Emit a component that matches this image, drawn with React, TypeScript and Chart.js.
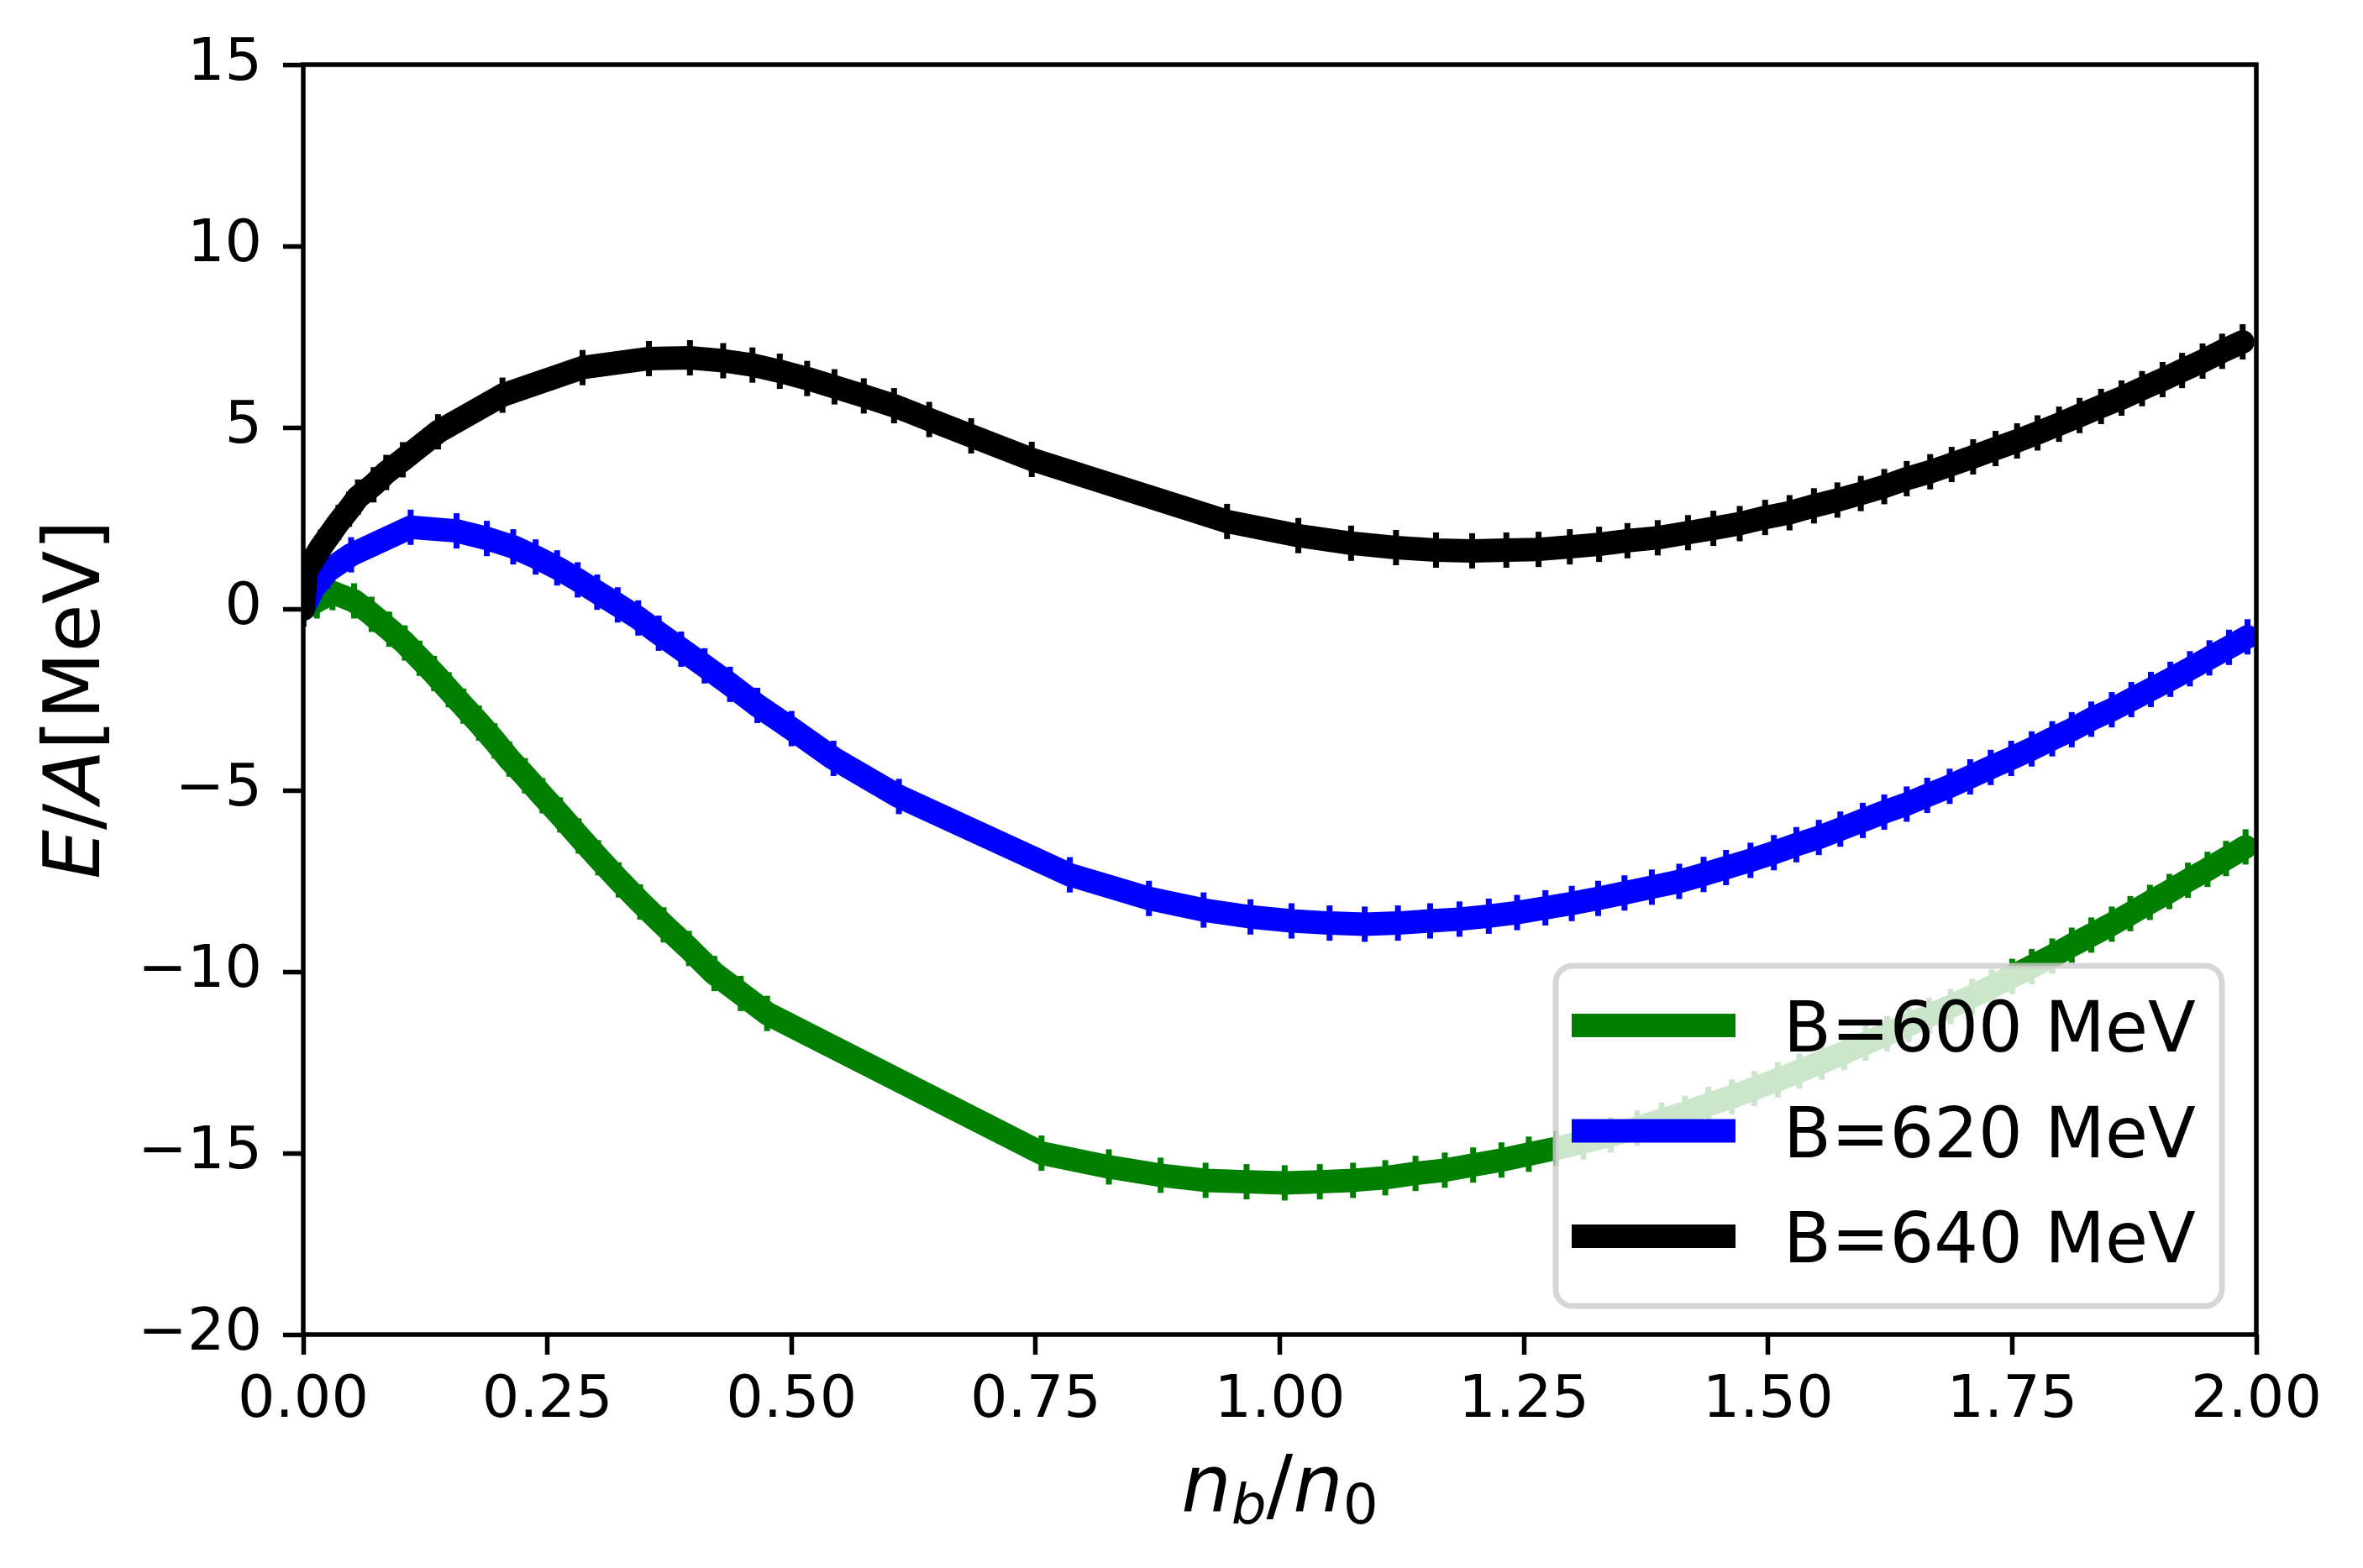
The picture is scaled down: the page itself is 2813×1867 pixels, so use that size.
import React, { useEffect, useRef } from "react";
import { Chart, registerables } from "chart.js";

Chart.register(...registerables);

// ---------- data ----------
const seriesLabels = ["B=600 MeV", "B=620 MeV", "B=640 MeV"];
const seriesColors = ["#008000", "#0000ff", "#000000"];

const xB600 = [
  0, 0.014, 0.03, 0.052, 0.07, 0.088, 0.104, 0.119, 0.134, 0.149, 0.164, 0.18, 0.196, 0.211,
  0.227, 0.245, 0.263, 0.282, 0.302, 0.323, 0.345, 0.369, 0.395, 0.421, 0.448, 0.475, 0.756,
  0.825, 0.878, 0.924, 0.966, 1.005, 1.041, 1.075, 1.108, 1.139, 1.169, 1.198, 1.227, 1.255,
  1.283, 1.311, 1.339, 1.366, 1.391, 1.415, 1.439, 1.463, 1.486, 1.51, 1.532, 1.555, 1.578,
  1.6, 1.622, 1.644, 1.665, 1.687, 1.709, 1.729, 1.75, 1.77, 1.791, 1.811, 1.831, 1.852,
  1.871, 1.891, 1.911, 1.93, 1.95, 1.969, 1.989,
];
const yB600 = [
  0, 0.22, 0.45, 0.22, -0.15, -0.56, -0.94, -1.36, -1.78, -2.23, -2.68, -3.15, -3.64, -4.14,
  -4.6, -5.15, -5.68, -6.26, -6.86, -7.47, -8.08, -8.71, -9.36, -10.05, -10.6, -11.15, -15.0,
  -15.38, -15.61, -15.75, -15.79, -15.82, -15.79, -15.75, -15.68, -15.56, -15.47, -15.33,
  -15.19, -15.03, -14.87, -14.69, -14.5, -14.31, -14.09, -13.9, -13.66, -13.45, -13.22,
  -12.98, -12.74, -12.49, -12.23, -11.97, -11.71, -11.46, -11.21, -10.96, -10.68, -10.42,
  -10.13, -9.86, -9.57, -9.27, -8.99, -8.69, -8.4, -8.09, -7.79, -7.48, -7.18, -6.88, -6.56,
];

const xB620 = [
  0, 0.01, 0.025, 0.049, 0.11, 0.157, 0.188, 0.215, 0.238, 0.26, 0.281, 0.301, 0.322, 0.343,
  0.364, 0.387, 0.411, 0.437, 0.465, 0.5, 0.543, 0.61, 0.785, 0.866, 0.922, 0.97, 1.012,
  1.051, 1.087, 1.121, 1.154, 1.184, 1.214, 1.243, 1.272, 1.299, 1.326, 1.353, 1.381, 1.409,
  1.434, 1.457, 1.482, 1.506, 1.529, 1.552, 1.574, 1.597, 1.619, 1.642, 1.663, 1.686, 1.707,
  1.728, 1.749, 1.77, 1.791, 1.811, 1.831, 1.852, 1.872, 1.892, 1.912, 1.932, 1.952, 1.972,
  1.991,
];
const yB620 = [
  0, 0.55, 1.05, 1.49, 2.25, 2.15, 1.94, 1.71, 1.43, 1.13, 0.8, 0.46, 0.11, -0.25, -0.67,
  -1.11, -1.57, -2.08, -2.66, -3.3, -4.12, -5.17, -7.33, -7.98, -8.3, -8.49, -8.6, -8.66,
  -8.69, -8.66, -8.6, -8.55, -8.47, -8.37, -8.24, -8.12, -7.98, -7.83, -7.67, -7.51, -7.32,
  -7.13, -6.93, -6.72, -6.5, -6.3, -6.07, -5.83, -5.6, -5.38, -5.14, -4.89, -4.63, -4.37,
  -4.12, -3.86, -3.58, -3.33, -3.04, -2.78, -2.5, -2.22, -1.94, -1.65, -1.35, -1.06, -0.77,
];

const xB640 = [
  0, 0.003, 0.018, 0.036, 0.047, 0.056, 0.072, 0.085, 0.102, 0.138, 0.204, 0.286, 0.354,
  0.396, 0.43, 0.46, 0.488, 0.516, 0.544, 0.574, 0.605, 0.641, 0.684, 0.746, 0.946, 1.019,
  1.073, 1.119, 1.16, 1.197, 1.232, 1.265, 1.297, 1.327, 1.356, 1.387, 1.418, 1.444, 1.471,
  1.497, 1.522, 1.547, 1.571, 1.595, 1.619, 1.642, 1.666, 1.688, 1.71, 1.733, 1.755, 1.776,
  1.798, 1.819, 1.841, 1.862, 1.883, 1.904, 1.924, 1.945, 1.965, 1.986,
];
const yB640 = [
  0, 1.04, 1.7, 2.38, 2.75, 3.08, 3.42, 3.76, 4.11, 4.88, 5.89, 6.65, 6.9, 6.92, 6.84, 6.72,
  6.55, 6.35, 6.12, 5.87, 5.6, 5.22, 4.77, 4.12, 2.41, 2.02, 1.81, 1.69, 1.62, 1.6, 1.62,
  1.64, 1.71, 1.78, 1.88, 1.96, 2.1, 2.22, 2.35, 2.52, 2.65, 2.84, 3.0, 3.18, 3.37, 3.59,
  3.78, 3.98, 4.19, 4.42, 4.63, 4.85, 5.09, 5.33, 5.58, 5.81, 6.07, 6.32, 6.57, 6.83, 7.1,
  7.36,
];

const xTickValues = [0, 0.25, 0.5, 0.75, 1.0, 1.25, 1.5, 1.75, 2.0];
const yTickValues = [-20, -15, -10, -5, 0, 5, 10, 15];

const seriesX = [xB600, xB620, xB640];
const seriesY = [yB600, yB620, yB640];

// ---------- drawing helpers ----------
const FONT = "'DejaVu Sans'";

const decorations = {
  id: "decorations",
  afterDatasetsDraw(chart: any) {
    const { ctx, chartArea: a } = chart;
    // frame (all four spines)
    ctx.save();
    ctx.strokeStyle = "#000";
    ctx.lineWidth = 5.5;
    ctx.lineJoin = "miter";
    ctx.strokeRect(a.left, a.top, a.right - a.left, a.bottom - a.top);
    ctx.restore();

    // legend
    const w = 793;
    const h = 405;
    const right = a.right - 41;
    const bottom = a.bottom - 34;
    const left = right - w;
    const top = bottom - h;
    ctx.save();
    ctx.beginPath();
    ctx.roundRect(left, top, w, h, 20);
    ctx.fillStyle = "rgba(255,255,255,0.8)";
    ctx.fill();
    ctx.lineWidth = 7;
    ctx.strokeStyle = "rgba(204,204,204,0.8)";
    ctx.stroke();
    ctx.font = `83px ${FONT}`;
    ctx.textBaseline = "alphabetic";
    ctx.textAlign = "left";
    for (let i = 0; i < seriesLabels.length; i++) {
      const cy = top + 71 + i * 125.5;
      ctx.beginPath();
      ctx.lineCap = "butt";
      ctx.lineWidth = 28;
      ctx.strokeStyle = seriesColors[i];
      ctx.moveTo(left + 19, cy);
      ctx.lineTo(left + 214, cy);
      ctx.stroke();
      ctx.fillStyle = "#000";
      ctx.fillText(seriesLabels[i], left + 271, cy + 31);
    }
    ctx.restore();
  },
  afterDraw(chart: any) {
    const { ctx, chartArea: a } = chart;
    ctx.save();
    ctx.fillStyle = "#000";
    ctx.textBaseline = "alphabetic";
    ctx.textAlign = "left";

    // x label: n_b/n_0
    const big = 94;
    const small = 66;
    const parts = [
      { t: "n", f: `italic ${big}px ${FONT}`, dy: 0 },
      { t: "b", f: `italic ${small}px ${FONT}`, dy: 14 },
      { t: "/", f: `${big}px ${FONT}`, dy: 0 },
      { t: "n", f: `italic ${big}px ${FONT}`, dy: 0 },
      { t: "0", f: `${small}px ${FONT}`, dy: 14 },
    ];
    let total = 0;
    const widths = parts.map((p) => {
      ctx.font = p.f;
      const wd = ctx.measureText(p.t).width;
      total += wd;
      return wd;
    });
    let x = (a.left + a.right) / 2 - total / 2;
    const baseY = 1800;
    parts.forEach((p, i) => {
      ctx.font = p.f;
      ctx.fillText(p.t, x, baseY + p.dy);
      x += widths[i];
    });

    // y label: E/A[MeV]
    const yparts = [
      { t: "E", f: `italic 93px ${FONT}` },
      { t: "/", f: `93px ${FONT}` },
      { t: "A", f: `italic 93px ${FONT}` },
      { t: "[MeV]", f: `93px ${FONT}` },
    ];
    let ytotal = 0;
    const ywidths = yparts.map((p) => {
      ctx.font = p.f;
      const wd = ctx.measureText(p.t).width;
      ytotal += wd;
      return wd;
    });
    ctx.translate(118, (a.top + a.bottom) / 2);
    ctx.rotate(-Math.PI / 2);
    let yx = -ytotal / 2;
    yparts.forEach((p, i) => {
      ctx.font = p.f;
      ctx.fillText(p.t, yx, 0);
      yx += ywidths[i];
    });
    ctx.restore();
  },
};

export default function App() {
  const canvasRef = useRef<HTMLCanvasElement | null>(null);

  useEffect(() => {
    const canvas = canvasRef.current;
    if (!canvas) return;
    const datasets = seriesLabels.map((label, s) => ({
      label,
      data: seriesX[s].map((x, i) => ({ x, y: seriesY[s][i] })),
      showLine: true,
      borderColor: seriesColors[s],
      backgroundColor: seriesColors[s],
      borderWidth: 28,
      borderCapStyle: "round" as const,
      borderJoinStyle: "round" as const,
      pointStyle: "line" as const,
      pointRotation: 90,
      pointRadius: 21,
      pointBorderWidth: 7,
      pointBorderColor: seriesColors[s],
      pointHoverRadius: 21,
      tension: 0,
      clip: 0,
      order: 3 - s,
    }));

    const chart = new Chart(canvas, {
      type: "scatter",
      data: { datasets },
      options: {
        animation: false,
        responsive: false,
        devicePixelRatio: 1,
        events: [],
        layout: { padding: { left: 0, top: 77, right: 127, bottom: 0 } },
        plugins: {
          legend: { display: false },
          tooltip: { enabled: false },
        },
        scales: {
          x: {
            type: "linear",
            min: 0,
            max: 2,
            afterBuildTicks: (scale: any) => {
              scale.ticks = xTickValues.map((v) => ({ value: v }));
            },
            afterFit: (scale: any) => {
              scale.height = 278;
            },
            border: { display: false },
            grid: {
              drawOnChartArea: false,
              drawTicks: true,
              tickLength: 24,
              tickWidth: 5.5,
              tickColor: "#000",
            },
            ticks: {
              color: "#000",
              padding: 14,
              maxRotation: 0,
              autoSkip: false,
              font: { family: FONT, size: 70 },
              callback: (v: any) => Number(v).toFixed(2),
            },
          },
          y: {
            type: "linear",
            min: -20,
            max: 15,
            afterBuildTicks: (scale: any) => {
              scale.ticks = yTickValues.map((v) => ({ value: v }));
            },
            afterFit: (scale: any) => {
              scale.width = 361;
            },
            border: { display: false },
            grid: {
              drawOnChartArea: false,
              drawTicks: true,
              tickLength: 24,
              tickWidth: 5.5,
              tickColor: "#000",
            },
            ticks: {
              color: "#000",
              padding: 25,
              autoSkip: false,
              font: { family: FONT, size: 70 },
              callback: (v: any) => String(v).replace("-", "\u2212"),
            },
          },
        },
      },
      plugins: [decorations],
    });
    return () => chart.destroy();
  }, []);

  return (
    <div style={{ position: "absolute", left: 0, top: 0, width: 2813, height: 1867, background: "#fff" }}>
      <canvas ref={canvasRef} width={2813} height={1867} style={{ width: 2813, height: 1867, display: "block" }} />
    </div>
  );
}
